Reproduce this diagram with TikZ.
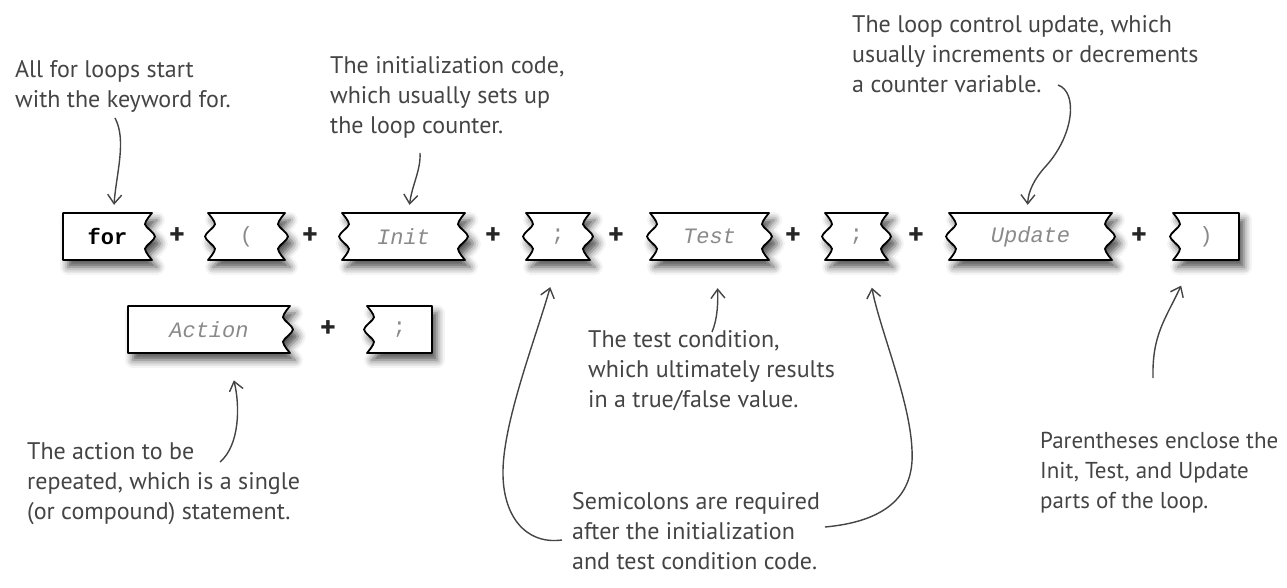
\documentclass[tikz,border=0pt]{standalone}
\usepackage{fontspec}
\setmainfont{PT Sans}
\setmonofont{Liberation Mono}
\usetikzlibrary{arrows.meta,shadows.blur}
\definecolor{ink}{HTML}{444444}
\definecolor{codegray}{HTML}{8A8A8A}
\tikzset{
  brick/.style={draw=black, line width=1.8pt, fill=white, line join=round,
    blur shadow={shadow xshift=5pt, shadow yshift=-7pt, shadow blur radius=8pt, shadow opacity=70}},
  brickbox/.style={inner sep=0pt, draw=none},
  kw/.style={brickbox, font=\fontsize{22}{22}\selectfont\ttfamily\bfseries, text=black},
  slot/.style={brickbox, font=\fontsize{22}{22}\selectfont\ttfamily\itshape, text=codegray},
  punct/.style={brickbox, font=\fontsize{22}{22}\selectfont\ttfamily, text=codegray},
  plus/.style={inner sep=0pt, font=\fontsize{30}{30}\selectfont\bfseries, text=black!85},
  note/.style={anchor=north west, inner sep=0pt, align=left, text=ink,
    font=\fontsize{24}{30}\selectfont},
  arr/.style={draw=ink, line width=1.4pt,
    -{Straight Barb[length=9pt,width=14pt,line width=1.4pt]}},
  low/.style={shorten >=28pt},
  high/.style={shorten >=8pt}
}
% #1 name, #2 L, #3 R, #4 T, #5 B, #6 left wavy, #7 right wavy, #8 node style, #9 text
\newcommand\brick[9]{%
  \pgfmathsetmacro\bA{#4+0.24*(#5-#4)}%
  \pgfmathsetmacro\bB{#4+0.5*(#5-#4)}%
  \pgfmathsetmacro\bC{#4+0.76*(#5-#4)}%
  \pgfmathsetmacro\rIn{#3-7}\pgfmathsetmacro\rOut{#3+3}%
  \pgfmathsetmacro\lIn{#2+7}\pgfmathsetmacro\lOut{#2-3}%
  \ifnum#7=1 \edef\redge{-- plot[smooth,tension=0.45] coordinates {(#3,#4) (\rIn,\bA) (\rOut,\bB) (\rIn,\bC) (#3,#5)}}\else\def\redge{-- (#3,#5)}\fi
  \ifnum#6=1 \edef\ledge{-- plot[smooth,tension=0.45] coordinates {(#2,#5) (\lIn,\bC) (\lOut,\bB) (\lIn,\bA) (#2,#4)}}\else\def\ledge{-- (#2,#4)}\fi
  \path[brick] (#2,#4) -- (#3,#4) \redge -- (#2,#5) \ledge -- cycle;
  \pgfmathsetmacro\bW{#3-#2}\pgfmathsetmacro\bH{#5-#4}%
  \node[#8, minimum width=\bW pt, minimum height=\bH pt] (#1) at ({(#2+#3)/2},{(#4+#5)/2}) {#9};
}
\begin{document}
\begin{tikzpicture}[x=1pt,y=-1pt]
\useasboundingbox (0,0) rectangle (1287,588);

% top row
\brick{for}{63}{152}{213}{260}{0}{1}{kw}{for}
\node[plus] (p1) at (177,236) {+};
\brick{lpar}{208}{285}{213}{260}{1}{1}{punct}{(}
\node[plus] (p2) at (310,236) {+};
\brick{init}{342}{465}{213}{260}{1}{1}{slot}{Init}
\node[plus] (p3) at (493,236) {+};
\brick{semi1}{526}{590}{213}{260}{1}{1}{punct}{;}
\node[plus] (p4) at (616,236) {+};
\brick{test}{650}{769}{213}{260}{1}{1}{slot}{Test}
\node[plus] (p5) at (793,236) {+};
\brick{semi2}{825}{888}{213}{260}{1}{1}{punct}{;}
\node[plus] (p6) at (916,236) {+};
\brick{upd}{949}{1112}{213}{260}{1}{1}{slot}{Update}
\node[plus] (p7) at (1139,236) {+};
\brick{rpar}{1173}{1239}{213}{260}{1}{0}{punct}{)}

% bottom row
\brick{act}{128}{290}{306}{353}{0}{1}{slot}{Action}
\node[plus] (p8) at (328,329) {+};
\brick{semi3}{367}{432}{306}{353}{1}{0}{punct}{;}

% notes
\node[note] (forNote) at (15,60) {All for loops start\\with the keyword for.};
\node[note] (initNote) at (330,56) {The initialization code,\\which usually sets up\\the loop counter.};
\node[note] (updNote) at (852,15) {The loop control update, which\\usually increments or decrements\\a counter variable.};
\node[note] (testNote) at (588,330) {The test condition,\\which ultimately results\\in a true/false value.};
\node[note] (semiNote) at (572,492) {Semicolons are required\\after the initialization\\and test condition code.};
\node[note] (actNote) at (27,442) {The action to be\\repeated, which is a single\\(or compound) statement.};
\node[note, font=\fontsize{23}{30}\selectfont] (parNote) at (1040,432) {Parentheses enclose the\\Init, Test, and Update\\parts of the loop.};

% arrow start points
\coordinate (a1) at (115,118);
\coordinate (a2) at (420,153);
\coordinate (a3) at (1058,85);
\coordinate (a4) at (712,332);
\coordinate (a5) at (562,540);
\coordinate (a6) at (825,527);
\coordinate (a7) at (220,462);
\coordinate (a9) at (1153,378);

% arrows
\draw[arr,high] (a1) .. controls (127,140) and (116,175) .. ([xshift=6pt]for.north);
\draw[arr,high] (a2) .. controls (421,170) and (412,185) .. ([xshift=5pt]init.north);
\draw[arr,high] (a3) .. controls (1078,92) and (1074,135) .. (1046,166)
  .. controls (1034,179) and (1028,192) .. ([xshift=-3pt]upd.north);
\draw[arr,low] (a4) .. controls (718,318) and (718,300) .. ([xshift=7pt]test.south);
\draw[arr,low] (a5) .. controls (525,545) and (502,515) .. (503,470)
  .. controls (504,420) and (535,340) .. (semi1.south);
\draw[arr,low] (a6) .. controls (880,522) and (915,500) .. (912,450)
  .. controls (910,400) and (880,330) .. ([xshift=10pt]semi2.south);
\draw[arr,low] (a7) .. controls (240,445) and (240,405) .. ([xshift=18pt]act.south);
\draw[arr,low] (a9) .. controls (1152,335) and (1165,320) .. ([xshift=-13pt]rpar.south);
\end{tikzpicture}
\end{document}
